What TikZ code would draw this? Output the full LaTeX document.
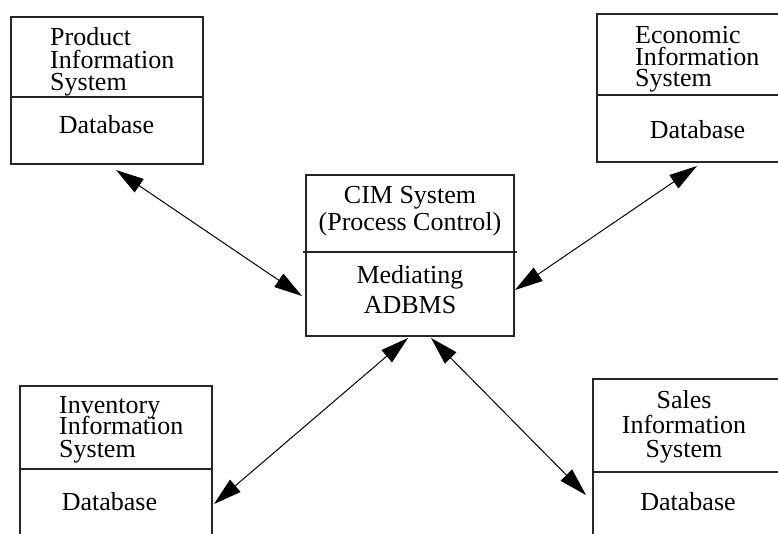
\documentclass[tikz,border=0pt]{standalone}
\usepackage{fontspec}
\setmainfont{Liberation Serif}
\usetikzlibrary{arrows.meta,calc}
\begin{document}
\begin{tikzpicture}[x=1pt,y=-1pt,
  box/.style={draw=black!85, line width=1.3pt, inner sep=0pt, outer sep=0pt, anchor=north west},
  divider/.style={draw=black!85, line width=1.3pt},
  lbl/.style={inner sep=0pt, font=\fontsize{26}{26}\selectfont},
  tip/.style={Triangle[length=28pt,width=16pt]},
  link/.style={line width=1pt, {Triangle[length=28pt,width=16pt]}-{Triangle[length=28pt,width=16pt]}}]
\useasboundingbox (0,0) rectangle (778,533);
\clip (0,0) rectangle (778,533);

% ---- boxes ----
\node[box, minimum width=192pt, minimum height=147pt] (prod)  at (11,17)  {};
\node[box, minimum width=193pt, minimum height=148pt] (econ)  at (597,14) {};
\node[box, minimum width=208pt, minimum height=161pt] (cim)   at (306,175) {};
\node[box, minimum width=192pt, minimum height=174pt] (inv)   at (20,386) {};
\node[box, minimum width=197pt, minimum height=181pt] (sales) at (593,379) {};

% ---- dividers between system name and database ----
\draw[divider] ($(prod.north west)+(0,80)$)  -- ($(prod.north east)+(0,80)$);
\draw[divider] ($(econ.north west)+(0,81)$)  -- ($(econ.north east)+(0,81)$);
\draw[divider] ($(cim.north west)+(-3,77)$)  -- ($(cim.north east)+(3,77)$);
\draw[divider] ($(inv.north west)+(0,83)$)   -- ($(inv.north east)+(0,83)$);
\draw[divider] ($(sales.north west)+(0,93)$) -- ($(sales.north east)+(0,93)$);

% ---- product information system ----
\node[lbl, anchor=base west] (prodA) at (50,45) {Product};
\node[lbl, anchor=base west] (prodB) at (50,68) {Information};
\node[lbl, anchor=base west] (prodC) at (50,90) {System};
\node[lbl, anchor=base]      (prodD) at (106.5,133) {Database};

% ---- economic information system ----
\node[lbl, anchor=base west] (econA) at (635,43) {Economic};
\node[lbl, anchor=base west] (econB) at (635,65) {Information};
\node[lbl, anchor=base west] (econC) at (635,86) {System};
\node[lbl, anchor=base]      (econD) at (697.5,138) {Database};

% ---- CIM system ----
\node[lbl, anchor=base] (cimA) at (410,203) {CIM System};
\node[lbl, anchor=base] (cimB) at (410,230) {(Process Control)};
\node[lbl, anchor=base] (cimC) at (410,283) {Mediating};
\node[lbl, anchor=base] (cimD) at (410,313) {ADBMS};

% ---- inventory information system ----
\node[lbl, anchor=base west] (invA) at (59,413) {Inventory};
\node[lbl, anchor=base west] (invB) at (59,434) {Information};
\node[lbl, anchor=base west] (invC) at (59,457) {System};
\node[lbl, anchor=base]      (invD) at (109.5,510) {Database};

% ---- sales information system ----
\node[lbl, anchor=base] (salesA) at (684,408) {Sales};
\node[lbl, anchor=base] (salesB) at (684,433) {Information};
\node[lbl, anchor=base] (salesC) at (684,457) {System};
\node[lbl, anchor=base] (salesD) at (688,510) {Database};

% ---- connector end points, just off each box ----
\coordinate (prodEnd)  at ($(prod.south west)+(105,6)$);
\coordinate (cimW)     at ($(cim.north west)+(-4,121)$);
\coordinate (econEnd)  at ($(econ.south west)+(100,4)$);
\coordinate (cimE)     at ($(cim.north east)+(1,115)$);
\coordinate (cimSW)    at ($(cim.south west)+(102,2)$);
\coordinate (invEnd)   at ($(inv.north east)+(2,118)$);
\coordinate (cimSE)    at ($(cim.south west)+(125,2)$);
\coordinate (salesEnd) at ($(sales.north west)+(-7,116)$);

% ---- bidirectional links ----
\draw[link] (prodEnd) -- (cimW);
\draw[link] (econEnd) -- (cimE);
\draw[link] (cimSW) -- (invEnd);
\draw[link] (cimSE) -- (salesEnd);
\end{tikzpicture}
\end{document}
